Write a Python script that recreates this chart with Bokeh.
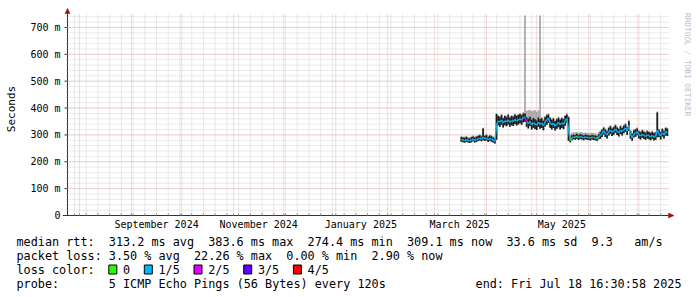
import pandas as pd
from math import pi
from bokeh.plotting import figure
from bokeh.layouts import column, row
from bokeh.core.properties import value
from bokeh.models import Range1d, FixedTicker, DatetimeTickFormatter, ColumnDataSource
from bokeh.embed import file_html
from bokeh.resources import INLINE

# ---------------- data ----------------
first_day = "2025-03-17"
median_ms = [
    283, 281, 279, 282, 280, 278, 281, 284, 280, 282,
    285, 288, 284, 292, 286, 289, 282, 287, 284, 281,
    276, 335, 352, 348, 355, 345, 352, 349, 356, 347,
    353, 350, 358, 352, 356, 360, 355, 365, 366, 348,
    342, 350, 338, 345, 340, 336, 347, 340, 344, 335,
    348, 356, 362, 345, 338, 343, 333, 340, 346, 338,
    344, 340, 352, 362, 318, 280, 289, 293, 291, 295,
    290, 294, 292, 289, 293, 291, 290, 288, 292, 290,
    289, 286, 293, 298, 305, 316, 306, 300, 312, 318,
    310, 315, 322, 314, 308, 318, 312, 320, 326, 315,
    335, 300, 290, 303, 306, 312, 300, 296, 302, 298,
    294, 300, 297, 293, 298, 292, 295, 318, 305, 296,
    308, 300, 312, 309]
smoke_hi_ms = [
    292, 290, 289, 293, 288, 287, 291, 294, 290, 293,
    296, 299, 294, 324, 296, 300, 292, 298, 295, 290,
    287, 378, 370, 366, 374, 362, 370, 366, 375, 364,
    370, 368, 376, 370, 374, 378, 373, 380, 380, 366,
    360, 368, 356, 363, 358, 354, 365, 358, 362, 353,
    366, 373, 376, 363, 356, 361, 351, 358, 364, 356,
    362, 358, 370, 376, 366, 290, 299, 302, 300, 304,
    299, 303, 301, 298, 302, 300, 299, 297, 301, 299,
    298, 295, 302, 310, 319, 327, 320, 314, 326, 332,
    324, 329, 336, 328, 322, 332, 326, 334, 340, 329,
    351, 315, 304, 317, 320, 324, 314, 310, 316, 312,
    308, 314, 311, 307, 312, 306, 309, 383, 319, 310,
    322, 314, 326, 323]
smoke_lo_ms = [
    275, 273, 271, 274, 272, 270, 273, 276, 272, 274,
    277, 279, 276, 280, 277, 280, 274, 278, 275, 272,
    268, 282, 336, 330, 338, 328, 336, 332, 339, 330,
    336, 333, 341, 335, 339, 343, 338, 347, 348, 330,
    324, 333, 320, 327, 322, 318, 330, 323, 326, 317,
    331, 338, 345, 327, 320, 326, 316, 323, 329, 320,
    326, 322, 334, 345, 278, 273, 280, 284, 282, 286,
    281, 285, 283, 280, 284, 282, 281, 279, 283, 281,
    280, 277, 284, 286, 292, 302, 292, 287, 298, 304,
    296, 301, 308, 300, 294, 304, 298, 306, 312, 301,
    315, 287, 278, 290, 293, 299, 287, 283, 289, 285,
    282, 287, 284, 280, 285, 279, 282, 291, 292, 283,
    294, 287, 298, 296]
outer_hi_ms = [
    296, 294, 293, 297, 292, 291, 295, 298, 294, 297,
    300, 303, 298, 327, 300, 304, 296, 302, 299, 294,
    291, 381, 374, 370, 378, 366, 374, 370, 379, 368,
    374, 372, 380, 374, 378, 382, 377, 384, 745, 390,
    392, 394, 388, 391, 393, 386, 392, 745, 366, 357,
    370, 377, 380, 367, 360, 365, 355, 362, 368, 360,
    366, 362, 374, 380, 370, 302, 308, 309, 310, 311,
    308, 311, 310, 307, 309, 308, 307, 306, 309, 307,
    306, 304, 312, 316, 323, 331, 324, 319, 330, 336,
    328, 333, 340, 332, 326, 336, 330, 338, 344, 333,
    356, 319, 308, 321, 324, 328, 318, 314, 320, 316,
    312, 318, 315, 311, 316, 310, 313, 387, 323, 314,
    326, 318, 330, 327]
loss_idx = [
    1, 1, 1, 1, 1, 1, 1, 1, 1, 1,
    1, 1, 1, 1, 1, 1, 1, 1, 1, 1,
    1, 1, 1, 1, 1, 1, 1, 1, 1, 1,
    1, 1, 1, 1, 1, 1, 1, 1, 2, 1,
    1, 1, 1, 1, 1, 1, 1, 1, 1, 1,
    1, 1, 1, 1, 1, 1, 1, 1, 1, 1,
    1, 1, 1, 1, 1, 0, 1, 1, 0, 1,
    1, 1, 1, 1, 1, 1, 1, 1, 1, 1,
    1, 0, 1, 1, 1, 1, 1, 1, 1, 1,
    1, 1, 1, 1, 1, 1, 1, 1, 1, 1,
    1, 1, 1, 1, 1, 1, 1, 1, 1, 1,
    1, 1, 1, 1, 1, 1, 1, 1, 1, 1,
    1, 1, 1, 1]

loss_labels = ["0", "1/5", "2/5", "3/5", "4/5"]
loss_colors = ["#26ff00", "#00b8ff", "#dd00ff", "#5e00ff", "#ff0000"]

y_ticks = [0, 100, 200, 300, 400, 500, 600, 700]
y_tick_labels = ["0", "100 m", "200 m", "300 m", "400 m", "500 m", "600 m", "700 m"]
y_minor = list(range(20, 760, 20))
x_label_dates = ["2024-09-16", "2024-11-16", "2025-01-16", "2025-03-16", "2025-05-16"]

stats_rtt = [("median rtt:", 0), ("313.2 ms avg", 13), ("383.6 ms max", 27),
             ("274.4 ms min", 41), ("309.1 ms now", 55), ("33.6 ms sd", 69),
             ("9.3", 81), ("am/s", 87)]
stats_loss = [("packet loss:", 0), ("3.50 % avg", 13), ("22.26 % max", 25),
              ("0.00 % min", 38), ("2.90 % now", 50)]
probe_title = "probe:"
probe_text = "5 ICMP Echo Pings (56 Bytes) every 120s"
end_text = "end: Fri Jul 18 16:30:58 2025"
y_title = "Seconds"
watermark = "RRDTOOL / TOBI OETIKER"


def ms(s):
    return pd.Timestamp(s).value / 1e6


MONO = "DejaVu Sans Mono"
AX = "#333333"
AR = "#a01010"
GRID_MINOR = "#d4d4d4"
GRID_MAJOR = "#ebb4b4"

# time / value extent of the chart area
x0 = ms("2024-07-24 20:00")
x1 = ms("2025-07-18 16:31")
PW, PH = 601, 202            # chart area in pixels
ms_px = (x1 - x0) / PW
Y_TOP = 752
y_px = Y_TOP / PH

MAIN_H = 236
LEFT_W = 22
RIGHT_W = 22
# frame is a little larger than the chart area so that the axis arrows fit in it
pad_l, pad_r, pad_t, pad_b = 5, 6, 5, 3
MAIN_W = 697 - LEFT_W - RIGHT_W
border_left = 67 - LEFT_W - pad_l
border_top = 13 - pad_t
border_bottom = MAIN_H - (215 + pad_b)
border_right = MAIN_W - border_left - (PW + pad_l + pad_r)

p = figure(width=MAIN_W, height=MAIN_H, output_backend="svg", toolbar_location=None,
           x_axis_type="datetime",
           x_range=Range1d(x0 - pad_l * ms_px, x1 + pad_r * ms_px),
           y_range=Range1d(-pad_b * y_px, Y_TOP + pad_t * y_px),
           min_border_left=border_left, min_border_right=border_right,
           min_border_top=border_top, min_border_bottom=border_bottom)
p.outline_line_color = None
p.background_fill_color = "white"
p.border_fill_color = "white"
p.xgrid.visible = False
p.ygrid.visible = False

week_ticks = [t.value / 1e6 for t in pd.date_range("2024-07-29", "2025-07-14", freq="7D")]
month_ticks = [t.value / 1e6 for t in pd.date_range("2024-08-01", "2025-07-01", freq="MS")]

# grid lines limited to the chart area
p.segment(x0=week_ticks, x1=week_ticks, y0=[0] * len(week_ticks),
          y1=[Y_TOP] * len(week_ticks), line_color=GRID_MINOR, line_dash="1 1",
          line_width=1)
p.segment(x0=[x0] * len(y_minor), x1=[x1] * len(y_minor), y0=y_minor, y1=y_minor,
          line_color=GRID_MINOR, line_dash="1 1", line_width=1)
p.segment(x0=month_ticks, x1=month_ticks, y0=[0] * len(month_ticks),
          y1=[Y_TOP] * len(month_ticks), line_color=GRID_MAJOR, line_dash="1 1",
          line_width=1)
p.segment(x0=[x0] * 7, x1=[x1] * 7, y0=y_ticks[1:], y1=y_ticks[1:],
          line_color=GRID_MAJOR, line_dash="1 1", line_width=1)

# axes: Bokeh axes give the tick labels; rules and tick marks drawn at the chart edge
xa = p.xaxis[0]
xa.ticker = FixedTicker(ticks=[ms(d) for d in x_label_dates])
fmt = "%B %Y"
xa.formatter = DatetimeTickFormatter(microseconds=fmt, milliseconds=fmt, seconds=fmt,
                                     minsec=fmt, minutes=fmt, hourmin=fmt, hours=fmt,
                                     days=fmt, months=fmt, years=fmt)
xa.axis_line_color = None
xa.major_tick_line_color = None
xa.minor_tick_line_color = None
xa.major_tick_in = 0
xa.major_tick_out = 0
xa.minor_tick_in = 0
xa.minor_tick_out = 0
xa.major_label_standoff = 0
xa.major_label_text_font = MONO
xa.major_label_text_font_size = "10px"
xa.major_label_text_color = "black"

ya = p.yaxis[0]
ya.ticker = FixedTicker(ticks=y_ticks)
ya.major_label_overrides = dict(zip(y_ticks, y_tick_labels))
ya.axis_line_color = None
ya.major_tick_line_color = None
ya.minor_tick_line_color = None
ya.major_tick_in = 0
ya.major_tick_out = 0
ya.minor_tick_in = 0
ya.minor_tick_out = 0
ya.major_label_standoff = 2
ya.major_label_text_font = MONO
ya.major_label_text_font_size = "10px"
ya.major_label_text_color = "black"

# axis rules
p.segment(x0=[x0 - pad_l * ms_px, x0], y0=[0, 0], x1=[x1, x0],
          y1=[0, Y_TOP + pad_t * y_px], line_color=AX, line_width=1)
# y tick marks (major out 3 px, minor out 1 px)
p.segment(x0=[x0 - 3 * ms_px] * len(y_ticks), x1=[x0] * len(y_ticks),
          y0=y_ticks, y1=y_ticks, line_color=AX, line_width=1)
p.segment(x0=[x0 - 1 * ms_px] * len(y_minor), x1=[x0] * len(y_minor),
          y0=y_minor, y1=y_minor, line_color="#999999", line_width=1)
# x tick marks at grid positions (2 px up)
xt = week_ticks + month_ticks
p.segment(x0=xt, x1=xt, y0=[0] * len(xt), y1=[2 * y_px] * len(xt),
          line_color="#888888", line_width=1)

# smoke and median
dates = pd.date_range(first_day, periods=len(median_ms), freq="D")
src = ColumnDataSource(dict(x=dates, med=median_ms, hi=smoke_hi_ms,
                            lo=smoke_lo_ms, outer=outer_hi_ms))
day_ms = 86400000
p.vbar(x="x", width=day_ms, bottom="lo", top="outer", source=src,
       fill_color="#a4a4a4", line_color=None)
p.vbar(x="x", width=day_ms, bottom="lo", top="hi", source=src,
       fill_color="#1a1a1a", line_color=None)
seg = ColumnDataSource(dict(
    x0=dates[:-1], x1=dates[1:], y0=median_ms[:-1], y1=median_ms[1:],
    c=[loss_colors[i] for i in loss_idx[:-1]]))
p.segment(x0="x0", y0="y0", x1="x1", y1="y1", line_color="c", line_width=1.4,
          source=seg)

# axis arrow heads
p.patches(xs=[[x0 - 2.5 * ms_px, x0 + 2.5 * ms_px, x0],
              [x1, x1, x1 + 5.5 * ms_px]],
          ys=[[Y_TOP, Y_TOP, Y_TOP + 5 * y_px],
              [-2.5 * y_px, 2.5 * y_px, 0]],
          fill_color=AR, line_color=AR, line_width=0.5)

# ---------------- left strip: axis title ----------------
left = figure(width=LEFT_W, height=MAIN_H, output_backend="svg", toolbar_location=None,
              x_range=Range1d(0, LEFT_W), y_range=Range1d(MAIN_H, 0),
              x_axis_location=None, y_axis_location=None, min_border=0)
left.outline_line_color = None
left.xgrid.visible = False
left.ygrid.visible = False
left.text(x=[11], y=[113], text=[y_title], angle=pi / 2, text_align="center",
          text_baseline="middle", text_font=value(MONO),
          text_font_size=value("11px"), text_color="black")

# ---------------- right strip: watermark ----------------
side = figure(width=RIGHT_W, height=MAIN_H, output_backend="svg", toolbar_location=None,
              x_range=Range1d(697 - RIGHT_W, 697), y_range=Range1d(MAIN_H, 0),
              x_axis_location=None, y_axis_location=None, min_border=0)
side.outline_line_color = None
side.xgrid.visible = False
side.ygrid.visible = False
side.text(x=[687], y=[5], text=[watermark], angle=-pi / 2, text_align="left",
          text_baseline="middle", text_font=value(MONO),
          text_font_size=value("7.8px"), text_color="#bdbdbd")

# ---------------- legend block (bottom) ----------------
LEG_H = 297 - MAIN_H
leg = figure(width=697, height=LEG_H, output_backend="svg", toolbar_location=None,
             x_range=Range1d(0, 697), y_range=Range1d(297, MAIN_H),
             x_axis_location=None, y_axis_location=None, min_border=0)
leg.outline_line_color = None
leg.xgrid.visible = False
leg.ygrid.visible = False

CW = 7.1
LX = 16
ROWS = [241, 255, 269, 283]
label_cols = [15, 20, 27, 34, 41]
box_cols = [13, 18, 25, 32, 39]

tx, ty, tt = [], [], []
for txt, col in stats_rtt:
    tx.append(LX + col * CW); ty.append(ROWS[0]); tt.append(txt)
for txt, col in stats_loss:
    tx.append(LX + col * CW); ty.append(ROWS[1]); tt.append(txt)
tx.append(LX); ty.append(ROWS[2]); tt.append("loss color:")
for lab, col in zip(loss_labels, label_cols):
    tx.append(LX + col * CW); ty.append(ROWS[2]); tt.append(lab)
tx.append(LX); ty.append(ROWS[3]); tt.append(probe_title)
tx.append(LX + 13 * CW); ty.append(ROWS[3]); tt.append(probe_text)
leg.text(x=tx, y=ty, text=tt, text_align="left", text_baseline="middle",
         text_font=value(MONO), text_font_size=value("11.8px"), text_color="black")
leg.text(x=[681], y=[ROWS[3]], text=[end_text], text_align="right",
         text_baseline="middle", text_font=value(MONO),
         text_font_size=value("11.8px"), text_color="black")
bl = [LX + c * CW for c in box_cols]
leg.quad(left=bl, right=[b + 8 for b in bl], top=[ROWS[2] - 4.5] * 5,
         bottom=[ROWS[2] + 4.5] * 5, fill_color=loss_colors, line_color="black",
         line_width=1)

layout = column(row(left, p, side, spacing=0), leg, spacing=0)
open("out.html", "w").write(file_html(layout, INLINE))
